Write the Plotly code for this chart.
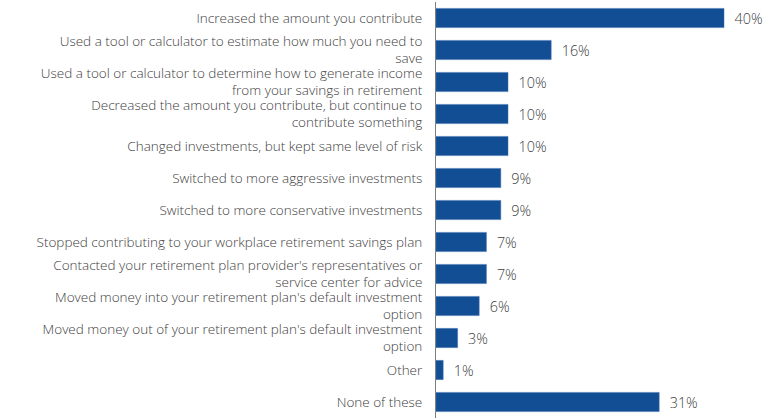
import plotly.graph_objects as go

categories = [
    "Increased the amount you contribute",
    "Used a tool or calculator to estimate how much you need to<br>save",
    "Used a tool or calculator to determine how to generate income<br>from your savings in retirement",
    "Decreased the amount you contribute, but continue to<br>contribute something",
    "Changed investments, but kept same level of risk",
    "Switched to more aggressive investments",
    "Switched to more conservative investments",
    "Stopped contributing to your workplace retirement savings plan",
    "Contacted your retirement plan provider's representatives or<br>service center for advice",
    "Moved money into your retirement plan's default investment<br>option",
    "Moved money out of your retirement plan's default investment<br>option",
    "Other",
    "None of these",
]
values = [40, 16, 10, 10, 10, 9, 9, 7, 7, 6, 3, 1, 31]
# leading spaces keep the percentage clear of the bar end
value_labels = [f"  {v}%" for v in values]

BAR_COLOR = "#124E93"
TEXT_COLOR = "#404040"
FONT = "Open Sans, Lato, sans-serif"

fig = go.Figure(
    go.Bar(
        y=categories,
        x=values,
        orientation="h",
        marker=dict(color=BAR_COLOR, line=dict(color="#3C6FB0", width=0.5)),
        text=value_labels,
        textposition="outside",
        textfont=dict(size=15, color=TEXT_COLOR, family=FONT, weight=300),
        cliponaxis=False,
        width=0.6,
    )
)

fig.update_layout(
    width=765,
    height=418,
    margin=dict(l=436, r=5, t=2, b=0),
    paper_bgcolor="white",
    plot_bgcolor="white",
    showlegend=False,
    font=dict(family=FONT, size=13.5, color=TEXT_COLOR),
    xaxis=dict(
        range=[0, 45],
        visible=False,
        showgrid=False,
        zeroline=False,
    ),
    yaxis=dict(
        autorange="reversed",
        showgrid=False,
        showline=True,
        linecolor="#7F7F7F",
        linewidth=1,
        ticks="",
        ticklabelstandoff=10,
        tickfont=dict(size=13.5, color=TEXT_COLOR, family=FONT, weight=300),
    ),
)

fig.write_html("out.html")
